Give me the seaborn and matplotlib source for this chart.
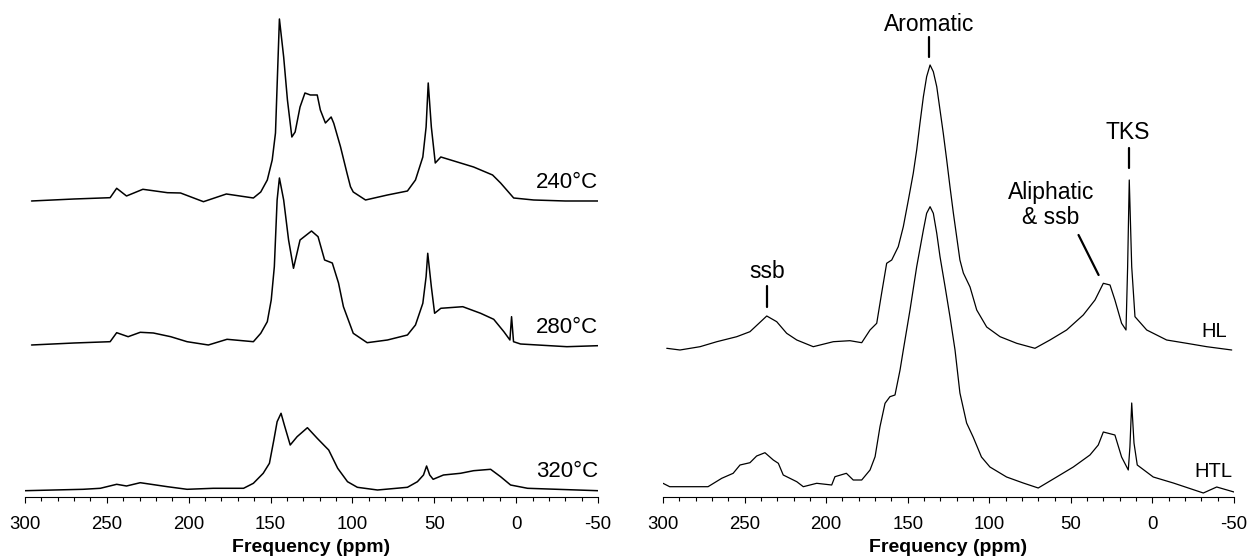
import numpy as np
import pandas as pd
import matplotlib
matplotlib.use("Agg")
import matplotlib.pyplot as plt
import seaborn as sns

# espectros (ppm, intensidad sobre su linea base)
ppm_240 = [296, 270, 248, 244, 238, 228, 213, 205, 191, 177, 160.5, 156, 152, 149, 147,
           144.6, 142, 139.7, 137, 135, 132, 129, 125.7, 121.5, 119.6, 116.5, 113, 111.4,
           107.3, 103.3, 101.2, 99.5, 92, 78.6, 66.4, 61.5, 57, 55, 53.7, 51.8, 49.4, 46,
           34, 26, 14.4, 9.5, 1.5, -10.7, -30, -50]
int_240 = [0, 2, 3.3, 12.7, 5, 11.7, 8.3, 8, -0.7, 7, 3, 9, 21, 41, 68,
           182, 144, 101, 64, 69, 94, 108, 106, 106, 91, 78, 84, 77.7,
           54.3, 27.7, 14.3, 9, 1, 6, 10, 21, 44, 74, 118, 74, 38, 44,
           38, 34, 26, 18, 3, 1, 0, 0]

ppm_280 = [296, 270, 248, 244, 237, 229.6, 221.6, 211, 201, 188, 176.6, 160.5, 156, 152,
           149.6, 147.7, 146, 144.6, 142, 139, 136, 132, 125, 121, 117, 112.3, 108.5, 105.5,
           99.5, 91, 78.6, 66.4, 61.5, 57, 55, 54, 51.8, 49.8, 46, 32.6, 21.7, 13.7, 7.5,
           3.8, 2.8, 1.6, -2.7, -31, -50]
int_280 = [0, 2, 3.3, 12.3, 8.3, 12.7, 12, 8.3, 3.3, 0, 5.7, 3.3, 11.7, 23.3,
           45, 78.3, 145, 167, 145, 105, 76.7, 105, 114, 108.3, 85, 82, 62, 38.3,
           11.7, 2.3, 5, 10, 20, 41.7, 68.3, 91.7, 58.3, 31.7, 36.7, 38.3, 31.7, 25.7, 13.3,
           5, 28.3, 3.3, 1, -1.7, -0.7]

ppm_320 = [300, 264.5, 254, 244, 238, 229.6, 213, 201, 185, 166.5, 160.5, 154.5, 150.7, 148,
           146, 143.6, 141.6, 138, 133.8, 127.5, 121.5, 116.5, 114.5, 109, 103, 97, 84.7,
           66.4, 60.3, 56.6, 54.7, 52.8, 50.7, 44.4, 34, 26, 15.6, 9.5, 3.4, -7, -50]
int_320 = [0, 1.4, 2.4, 6.4, 4.7, 8, 4, 1.4, 2.4, 2.4, 7.4, 17.4, 27.4, 50.7,
           69, 77.4, 65.7, 45.7, 54, 63, 52.4, 44, 40.7, 22.4, 9, 3.4, 0.7,
           3.4, 9, 15.7, 24.7, 15.7, 11.4, 15.7, 17.4, 20, 21.4, 14, 5.7, 2.4, 0]

ppm_hl = [297.7, 289.6, 277.3, 267, 254.8, 246.7, 236.4, 230.3, 224.2, 218, 207.9, 195.6,
          185.4, 178.2, 173.1, 169, 166, 162.9, 159.8, 155.8, 152.7, 149.6, 146.6, 144.5,
          142.5, 140.4, 138.4, 136.3, 134.3, 132.2, 130.2, 128.2, 126.1, 124.1, 122, 120,
          118, 115.9, 111.8, 107.7, 101.6, 93.4, 83.2, 72, 62.8, 52.6, 42.4, 35.2, 30.1,
          26, 23, 18.9, 16.2, 15.2, 14.2, 12.7, 10.7, 3.5, -8.7, -21, -33.3, -48.6]
int_hl = [0.7, -1, 2.3, 7.3, 12.3, 17.3, 33, 27.3, 15.7, 9, 2.3, 7.3,
          8.3, 6.3, 19, 25.7, 55.7, 85.7, 89, 102.3, 122.3, 149, 175.7, 199,
          225.7, 252.3, 272.3, 284, 277.3, 262.3, 239, 215.7, 189, 162.3, 135.7, 112.3,
          89, 76, 62, 39, 22, 12.3, 5.7, 0.7, 9, 19, 34, 49, 65.7,
          64, 49, 25.7, 19, 82.3, 169, 82.3, 32.3, 19, 9, 5.7, 2.3, -1]

ppm_htl = [300, 295.9, 287.8, 272.4, 264, 257, 252.8, 246.7, 242.6, 237.5, 232.4, 229.3,
           226.3, 218, 214, 205.8, 196.6, 194.6, 187.6, 183.4, 178.2, 173.1, 170, 167,
           163.9, 160.9, 157.8, 154.7, 152.7, 148.6, 144.5, 140.4, 138.4, 136.3, 134.3,
           132.2, 130.2, 127.1, 124.1, 121, 118, 113.9, 109.9, 104.8, 99.6, 89.4, 79.2, 70,
           58.7, 48.5, 38.3, 33.2, 30.1, 23, 18.9, 14.8, 13.8, 12.7, 11.3, 9.3, -0.5,
           -12.8, -31.2, -39.4, -50]
int_htl = [3.7, 0.3, 0.3, 0.3, 8.7, 13.7, 22, 24.3, 31, 34.3, 27, 23.7,
           12, 5.3, 0.3, 3.7, 2, 10.3, 13.7, 7, 7, 17, 30.3, 60.3,
           83.7, 90.3, 92, 117, 137, 177, 220.3, 257, 273.7, 280.3, 273.7,
           253.7, 230.3, 200.3, 170.3, 137, 94, 64, 50, 30, 20, 10, 4, -1,
           10, 20, 32, 42, 55, 52, 30, 17, 40, 84, 44, 22, 10,
           4, -6, 0, -5]

etiquetas_izq = ["240°C", "280°C", "320°C"]
etiquetas_der = ["HL", "HTL"]

sns.set_style("white")
plt.rcParams['font.family'] = ['Liberation Sans', 'DejaVu Sans']
plt.rcParams['axes.unicode_minus'] = False
plt.rcParams['text.color'] = 'black'
plt.rcParams['axes.labelcolor'] = 'black'
plt.rcParams['xtick.color'] = 'black'

fig = plt.figure(figsize=(12.53, 5.6), dpi=100)
ax1 = fig.add_axes([25/1253, 0.1125, 573/1253, 0.8786])
ax2 = fig.add_axes([663/1253, 0.1125, 571/1253, 0.8786])

# desplazamientos verticales de cada espectro (apilados)
izq = [(ppm_240, int_240, 296), (ppm_280, int_280, 152), (ppm_320, int_320, 6.3)]
der = [(ppm_hl, int_hl, 148), (ppm_htl, int_htl, 10)]

for ax, espectros, grosor in [(ax1, izq, 1.1), (ax2, der, 0.9)]:
    for p, i, off in espectros:
        df = pd.DataFrame({'ppm': p, 'y': np.array(i) + off})
        sns.lineplot(data=df, x='ppm', y='y', ax=ax, color='black', lw=grosor,
                     estimator=None, sort=False)

for ax in [ax1, ax2]:
    ax.set_xlim(300, -50)
    ax.set_ylim(0, 492)
    ax.set_yticks([])
    ax.set_ylabel("")
    ax.set_xticks(range(300, -51, -50))
    ax.set_xticklabels([str(v) for v in range(300, -51, -50)])
    ax.set_xticks(range(300, -51, -10), minor=True)
    ax.tick_params(axis='x', which='major', direction='out', length=4.3, width=0.8,
                   labelsize=13.4, pad=9.5, bottom=True, colors='black')
    ax.tick_params(axis='x', which='minor', direction='out', length=3, width=0.8, bottom=True)
    for s in ['top', 'left', 'right']:
        ax.spines[s].set_visible(False)
    ax.spines['bottom'].set_color('black')
    ax.spines['bottom'].set_linewidth(0.8)
    ax.set_xlabel("Frequency (ppm)", fontsize=14, fontweight='bold', labelpad=4)

# etiquetas de temperatura
for txt, ypos in zip(etiquetas_izq, [314, 169, 25.3]):
    ax1.text(-50, ypos, txt, ha='right', va='center', fontsize=16)
ax2.text(-45.7, 165.3, etiquetas_der[0], ha='right', va='center', fontsize=14.5)
ax2.text(-48.8, 25.3, etiquetas_der[1], ha='right', va='center', fontsize=14.5)

# anotaciones de picos
ax2.text(137, 472, "Aromatic", ha='center', va='center', fontsize=16.5)
ax2.plot([136.7, 136.7], [440, 460], color='black', lw=1.6)
ax2.text(236.4, 225, "ssb", ha='center', va='center', fontsize=16.5)
ax2.plot([236.4, 236.4], [190, 211], color='black', lw=1.6)
ax2.text(15.4, 364, "TKS", ha='center', va='center', fontsize=16.5)
ax2.plot([14.3, 14.3], [329, 349], color='black', lw=1.6)
ax2.text(62.2, 292, "Aliphatic\n& ssb", ha='center', va='center', fontsize=16.5,
         linespacing=1.1)
ax2.plot([45.3, 33.0], [262, 222], color='black', lw=1.6)

plt.savefig("out.png", dpi=100)
